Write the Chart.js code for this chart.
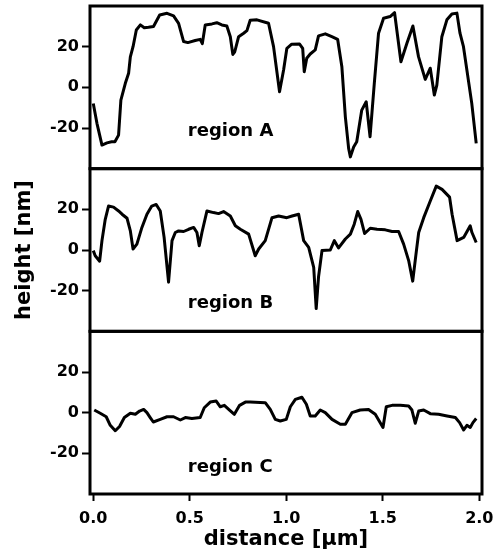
<!DOCTYPE html>
<html>
<head>
<meta charset="utf-8">
<script src="https://cdn.jsdelivr.net/npm/chart.js@4.4.1/dist/chart.umd.min.js"></script>
<style>
  html, body { margin: 0; padding: 0; background: #fff; }
</style>
</head>
<body>
<canvas id="profile" width="500" height="556"></canvas>
<script>
// height profiles (distance in um, height in nm)
const xA = [0, 0.019, 0.045, 0.071, 0.095, 0.112, 0.131, 0.143, 0.166, 0.183, 0.192, 0.206, 0.223, 0.244, 0.264, 0.286, 0.312, 0.344, 0.382, 0.416, 0.442, 0.468, 0.49, 0.528, 0.554, 0.565, 0.58, 0.615, 0.64, 0.666, 0.692, 0.71, 0.723, 0.733, 0.753, 0.779, 0.796, 0.813, 0.848, 0.908, 0.934, 0.965, 0.986, 1.003, 1.028, 1.069, 1.085, 1.093, 1.106, 1.124, 1.15, 1.167, 1.202, 1.236, 1.266, 1.288, 1.306, 1.323, 1.332, 1.349, 1.365, 1.391, 1.414, 1.434, 1.456, 1.478, 1.504, 1.538, 1.561, 1.594, 1.625, 1.656, 1.685, 1.72, 1.746, 1.767, 1.78, 1.806, 1.832, 1.858, 1.884, 1.9, 1.918, 1.961, 1.984];
const hA = [-7.9, -17.7, -28.4, -27.3, -26.8, -26.8, -23.5, -6.3, 2, 6.9, 15, 20, 28.2, 30.7, 29.3, 29.5, 29.9, 35.6, 36.4, 35.1, 31.5, 22.5, 22, 23, 23.6, 21.5, 30.7, 31.2, 31.8, 30.7, 30.2, 24.9, 16.2, 17.5, 24.9, 26.6, 27.9, 33, 33.2, 31.5, 20, -2.2, 8.5, 19.2, 21.2, 21.3, 19.2, 7.7, 14.3, 16.4, 18.4, 25.3, 26.3, 24.9, 23.6, 10.1, -14.5, -30, -34.2, -29.3, -26.8, -11.2, -7.1, -24.3, 2, 26.6, 34, 34.8, 36.7, 12.6, 21.7, 30.2, 15.1, 3.9, 9.4, -3.8, 1.1, 24.9, 33.2, 36.1, 36.5, 26.6, 20, -7.9, -27.6];

const xB = [0, 0.01, 0.033, 0.045, 0.062, 0.079, 0.105, 0.131, 0.149, 0.175, 0.192, 0.206, 0.226, 0.252, 0.278, 0.303, 0.326, 0.347, 0.367, 0.39, 0.408, 0.425, 0.442, 0.468, 0.494, 0.52, 0.537, 0.549, 0.563, 0.589, 0.623, 0.649, 0.675, 0.71, 0.736, 0.762, 0.805, 0.839, 0.857, 0.891, 0.926, 0.96, 1.003, 1.03, 1.064, 1.09, 1.116, 1.142, 1.155, 1.167, 1.185, 1.228, 1.249, 1.271, 1.306, 1.332, 1.352, 1.37, 1.387, 1.406, 1.435, 1.47, 1.513, 1.548, 1.582, 1.608, 1.634, 1.655, 1.672, 1.686, 1.712, 1.746, 1.777, 1.807, 1.846, 1.859, 1.885, 1.919, 1.953, 1.962, 1.984];
const hB = [-0.3, -2.8, -5.5, 4.6, 15.1, 21.6, 21.1, 19.2, 17.6, 15.6, 9.4, 0.5, 2.9, 11.1, 17.6, 21.6, 22.4, 19.2, 6.2, -15.8, 4.6, 8.6, 9.4, 9.1, 10.2, 11.1, 8.6, 2.1, 8.6, 19.2, 18.4, 17.9, 18.9, 16.7, 11.9, 10.2, 7.8, -2.8, 0.5, 4.6, 15.9, 16.7, 15.9, 16.7, 17.6, 4.6, 1.3, -8.5, -28.8, -13.3, -0.3, 0, 4.6, 1, 5.4, 7.8, 12.7, 18.9, 15.1, 8.1, 10.7, 10.2, 9.9, 9.1, 9.1, 2.9, -5.2, -15.3, -2, 8.6, 15.9, 24.1, 31.4, 29.8, 26, 17.6, 4.6, 6.2, 11.9, 8.6, 3.7];

const xC = [0.005, 0.036, 0.067, 0.088, 0.114, 0.136, 0.161, 0.192, 0.218, 0.24, 0.261, 0.278, 0.295, 0.311, 0.347, 0.382, 0.416, 0.451, 0.477, 0.511, 0.554, 0.575, 0.606, 0.637, 0.658, 0.679, 0.706, 0.731, 0.758, 0.788, 0.813, 0.891, 0.917, 0.943, 0.969, 1, 1.021, 1.047, 1.081, 1.104, 1.124, 1.15, 1.176, 1.202, 1.237, 1.28, 1.306, 1.34, 1.383, 1.426, 1.461, 1.501, 1.518, 1.548, 1.591, 1.634, 1.651, 1.668, 1.686, 1.712, 1.746, 1.789, 1.833, 1.876, 1.898, 1.919, 1.936, 1.953, 1.967, 1.984];
const hC = [1.3, -0.3, -2, -6.2, -8.9, -6.8, -2.4, -0.3, -0.8, 0.8, 1.6, 0, -2.4, -4.6, -3.3, -2, -2, -3.6, -2.4, -2.9, -2.4, 2.4, 5.2, 5.7, 2.9, 3.6, 1.3, -0.8, 3.6, 5.2, 5.2, 4.9, 1.6, -3.3, -4.1, -3.3, 2.9, 6.5, 7.6, 4.1, -1.6, -1.6, 1.3, 0, -3.3, -5.7, -5.7, 0, 1.3, 1.6, -0.8, -7.3, 2.9, 3.6, 3.6, 3.3, 1.3, -5.2, 0.8, 1.3, -0.5, -0.8, -1.6, -2.4, -4.9, -8.5, -6.2, -7.3, -4.9, -2.9];

const regionNames = ["region A", "region B", "region C"];
const heightTicks = [-20, 0, 20];
const distanceTicks = [0, 0.5, 1.0, 1.5, 2.0];

const toPoints = (xs, ys) => xs.map((x, i) => ({ x: x, y: ys[i] }));

Chart.defaults.font.family = "'DejaVu Sans', sans-serif";
Chart.defaults.font.weight = "bold";
Chart.defaults.color = "#000";

// full box around each panel plus the "region X" captions
const panelFrame = {
  id: "panelFrame",
  afterDatasetsDraw(chart, args, opts) {
    const { ctx, chartArea, scales } = chart;
    ctx.save();
    ctx.lineWidth = 3;
    ctx.strokeStyle = "#000";
    ctx.fillStyle = "#000";
    ctx.font = "bold 18px 'DejaVu Sans'";
    ctx.textBaseline = "alphabetic";
    opts.panels.forEach((p, i) => {
      const ys = scales[p.axis];
      ctx.strokeRect(chartArea.left, ys.top, chartArea.right - chartArea.left, ys.bottom - ys.top);
      ctx.fillText(regionNames[i], scales.x.getPixelForValue(p.lx), ys.getPixelForValue(p.ly));
    });
    ctx.restore();
  }
};

function yScale(showTitle) {
  return {
    type: "linear",
    position: "left",
    stack: "panels",
    stackWeight: 1,
    min: -40,
    max: 40,
    border: { display: false },
    grid: { drawOnChartArea: false, drawTicks: true, tickLength: 8, tickWidth: 2, tickColor: "#000" },
    ticks: { font: { size: 16 }, padding: 3 },
    title: {
      display: showTitle,
      text: "height [nm]",
      font: { size: 21 },
      padding: { top: 12, bottom: 0 }
    },
    afterBuildTicks: s => { s.ticks = heightTicks.map(v => ({ value: v })); },
    afterFit: s => { s.width = 90; s.paddingTop = 0; s.paddingBottom = 0; }
  };
}

const lineStyle = { borderColor: "#000", borderWidth: 3, pointRadius: 0, tension: 0, borderJoinStyle: "round", fill: false };

new Chart(document.getElementById("profile"), {
  type: "line",
  data: {
    datasets: [
      { label: regionNames[0], data: toPoints(xA, hA), yAxisID: "yA", ...lineStyle },
      { label: regionNames[1], data: toPoints(xB, hB), yAxisID: "yB", ...lineStyle },
      { label: regionNames[2], data: toPoints(xC, hC), yAxisID: "yC", ...lineStyle }
    ]
  },
  options: {
    responsive: false,
    animation: false,
    layout: { padding: { top: 6, right: 18, left: 0, bottom: 0 } },
    plugins: {
      legend: { display: false },
      tooltip: { enabled: false },
      panelFrame: {
        panels: [
          { axis: "yA", lx: 0.49, ly: -24 },
          { axis: "yB", lx: 0.49, ly: -28.6 },
          { axis: "yC", lx: 0.49, ly: -29 }
        ]
      }
    },
    scales: {
      x: {
        type: "linear",
        position: "bottom",
        min: -0.017,
        max: 2.014,
        border: { display: false },
        grid: { drawOnChartArea: false, drawTicks: true, tickLength: 7, tickWidth: 2, tickColor: "#000" },
        ticks: { font: { size: 16 }, padding: 8, maxRotation: 0, callback: v => v.toFixed(1) },
        title: { display: true, text: "distance [\u00b5m]", font: { size: 21 }, padding: { top: 0, bottom: 4 } },
        afterBuildTicks: s => { s.ticks = distanceTicks.map(v => ({ value: v })); },
        afterFit: s => { s.height = 62; s.paddingLeft = 0; s.paddingRight = 0; }
      },
      yC: yScale(false),
      yB: yScale(true),
      yA: yScale(false)
    }
  },
  plugins: [panelFrame]
});
</script>
</body>
</html>
